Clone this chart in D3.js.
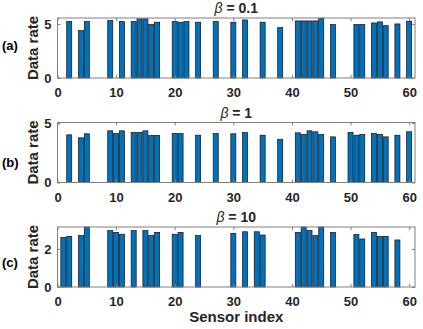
<!DOCTYPE html>
<html>
<head>
<meta charset="utf-8">
<script src="https://cdn.jsdelivr.net/npm/d3@7"></script>
<style>
  body { margin: 0; background: #fff; }
  svg text { font-family: "Liberation Sans", Arial, sans-serif; }
</style>
</head>
<body>
<svg id="canvas" width="423" height="329"></svg>
<script>
/***********************************************************************/
// Data

var indexA = [2, 4, 5, 9, 11, 13, 14, 15, 16, 17, 20, 21, 22, 24, 27, 30, 32, 35, 38, 41, 42, 43, 44, 45, 47, 51, 52, 54, 55, 56, 58, 60];
var rateA  = [5.22, 4.38, 5.22, 5.31, 5.22, 5.22, 5.47, 5.47, 4.97, 5.16, 5.22, 5.16, 5.22, 5.16, 5.22, 5.16, 5.37, 5.16, 4.66, 5.28, 5.28, 5.28, 5.28, 5.53, 4.94, 4.94, 4.94, 5.09, 5.19, 4.84, 5.0, 5.25];

var indexB = [2, 4, 5, 9, 10, 11, 13, 14, 15, 16, 17, 20, 21, 24, 27, 30, 32, 35, 38, 41, 42, 43, 44, 45, 47, 50, 51, 52, 54, 55, 56, 58, 60];
var rateB  = [4.01, 3.76, 4.10, 4.35, 4.12, 4.35, 4.21, 4.21, 4.35, 3.95, 3.95, 4.12, 4.12, 3.98, 4.12, 4.10, 4.21, 3.98, 3.64, 4.18, 4.04, 4.35, 4.27, 4.04, 3.84, 4.21, 3.98, 4.04, 4.12, 4.04, 3.84, 3.98, 4.27];

var indexC = [1, 2, 4, 5, 9, 10, 11, 13, 15, 16, 17, 20, 21, 24, 30, 32, 34, 35, 41, 42, 43, 44, 45, 47, 51, 52, 54, 55, 56, 58];
var rateC  = [2.61, 2.66, 2.70, 3.15, 2.96, 2.87, 2.77, 2.96, 2.96, 2.70, 2.87, 2.77, 2.87, 2.70, 2.82, 2.90, 2.90, 2.73, 2.87, 3.15, 2.96, 2.70, 3.15, 2.87, 2.75, 2.52, 2.87, 2.66, 2.66, 2.47];

var xTicks = [0, 10, 20, 30, 40, 50, 60];

var panels = [
  { tag: '(a)', beta: '0.1', index: indexA, rate: rateA, ymax: 5.55, yTicks: [0, 5], top: 18,    tagY: 50  },
  { tag: '(b)', beta: '1',   index: indexB, rate: rateB, ymax: 5.05, yTicks: [0, 5], top: 122.5, tagY: 167 },
  { tag: '(c)', beta: '10',  index: indexC, rate: rateC, ymax: 3.15, yTicks: [0, 2], top: 227,   tagY: 267 },
];

/***********************************************************************/
// Layout

var left = 57.5, right = 415, plotH = 60;
var svg = d3.select('#canvas');
var xScale = d3.scaleLinear().domain([0, 61]).range([left, right]);
var barW = (xScale(1) - xScale(0)) * 0.86;

panels.forEach(p => {
  var bottom = p.top + plotH;
  var yScale = d3.scaleLinear().domain([0, p.ymax]).range([bottom, p.top]);
  var g = svg.append('g');

  // bars
  g.selectAll('rect.bar').data(p.index).enter().append('rect')
    .attr('class', 'bar')
    .attr('x', d => xScale(d) - barW / 2)
    .attr('width', barW)
    .attr('y', (d, i) => yScale(p.rate[i]))
    .attr('height', (d, i) => bottom - yScale(p.rate[i]))
    .attr('fill', '#0072BD')
    .attr('stroke', '#111')
    .attr('stroke-width', 0.7);

  // box
  g.append('rect')
    .attr('x', left).attr('y', p.top)
    .attr('width', right - left).attr('height', plotH)
    .attr('fill', 'none').attr('stroke', '#808080').attr('stroke-width', 1);

  // x axis (bottom ticks inward, labels below) + top ticks
  var xAxis = d3.axisBottom(xScale).tickValues(xTicks).tickSizeInner(-3).tickSizeOuter(0).tickPadding(10).tickFormat(d3.format('d'));
  var gx = g.append('g').attr('transform', 'translate(0,' + bottom + ')').call(xAxis);
  var gxt = g.append('g').attr('transform', 'translate(0,' + p.top + ')')
    .call(d3.axisTop(xScale).tickValues(xTicks).tickSizeInner(-3).tickSizeOuter(0).tickFormat(''));

  // y axis left + right ticks
  var gy = g.append('g').attr('transform', 'translate(' + left + ',0)')
    .call(d3.axisLeft(yScale).tickValues(p.yTicks).tickSizeInner(-3).tickSizeOuter(0).tickPadding(6).tickFormat(d3.format('d')));
  var gyr = g.append('g').attr('transform', 'translate(' + right + ',0)')
    .call(d3.axisRight(yScale).tickValues(p.yTicks).tickSizeInner(-3).tickSizeOuter(0).tickFormat(''));

  [gx, gxt, gy, gyr].forEach(a => {
    a.select('.domain').remove();
    a.selectAll('line').attr('stroke', '#808080');
    a.selectAll('text').attr('font-size', 13).attr('font-weight', 'bold')
      .attr('fill', '#262626').attr('font-family', '"Liberation Sans", Arial, sans-serif');
  });

  // title
  var t = g.append('text')
    .attr('x', (left + right) / 2).attr('y', p.top - 5)
    .attr('text-anchor', 'middle').attr('font-size', 14).attr('font-weight', 'bold').attr('fill', '#262626');
  t.append('tspan').attr('font-style', 'italic').attr('font-weight', 'normal').text('β');
  t.append('tspan').text(' = ' + p.beta);

  // y label
  g.append('text')
    .attr('transform', 'translate(38,' + (p.top + plotH / 2) + ') rotate(-90)')
    .attr('text-anchor', 'middle').attr('font-size', 15).attr('font-weight', 'bold').attr('fill', '#262626')
    .text('Data rate');

  // panel tag
  g.append('text')
    .attr('x', 2).attr('y', p.tagY)
    .attr('font-family', '"Liberation Serif", "Times New Roman", serif')
    .attr('font-size', 13).attr('font-weight', 'bold').attr('fill', '#000')
    .text(p.tag);
});

// x label
svg.append('text')
  .attr('x', (left + right) / 2).attr('y', 322)
  .attr('text-anchor', 'middle').attr('font-size', 15).attr('font-weight', 'bold').attr('fill', '#262626')
  .text('Sensor index');
</script>
</body>
</html>
